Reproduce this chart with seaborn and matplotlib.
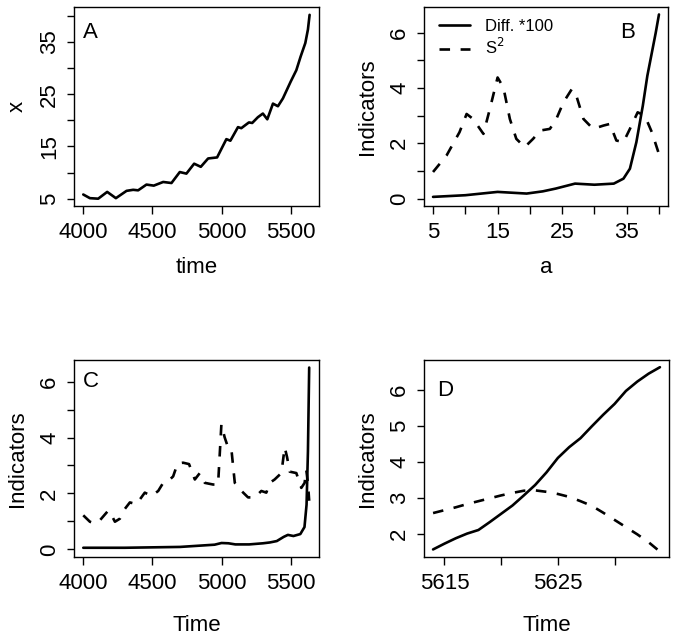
import numpy as np
import pandas as pd
import seaborn as sns
import matplotlib.pyplot as plt
from matplotlib.lines import Line2D

# Panel A: x against time
time_a = [4000, 4048, 4108, 4173, 4236, 4313, 4361, 4397, 4457, 4510, 4578, 4638,
          4698, 4746, 4802, 4850, 4903, 4968, 5035, 5064, 5119, 5143, 5198, 5222,
          5263, 5299, 5331, 5372, 5408, 5444, 5500, 5541, 5572, 5606, 5625, 5637]
x_a = [5.8, 5.1, 5.0, 6.3, 5.1, 6.5, 6.7, 6.6, 7.7, 7.5, 8.2, 8.0,
       10.1, 9.8, 11.7, 11.1, 12.7, 12.9, 16.4, 16.1, 18.7, 18.5, 19.6, 19.5,
       20.6, 21.3, 20.2, 23.2, 22.7, 24.2, 27.4, 29.6, 32.2, 34.8, 37.4, 40.2]

# Panel B: indicators against a
a_s2 = [5, 7.1, 9.1, 10.2, 11.2, 12.8, 13.8, 15.0, 15.9, 16.9, 17.9, 19.2, 20.5,
        21.6, 23.1, 24.1, 25.2, 26.5, 27.2, 28.3, 29.8, 31.4, 32.4, 33.4, 34.5,
        35.5, 36.7, 37.8, 38.9, 39.9]
s2_b = [0.96, 1.56, 2.4, 3.06, 2.88, 2.34, 3.24, 4.38, 4.02, 2.88, 2.16, 1.86, 2.16,
        2.46, 2.52, 2.88, 3.48, 3.96, 3.72, 2.88, 2.52, 2.64, 2.7, 2.1, 2.04,
        2.52, 3.12, 3.0, 2.4, 1.68]
a_diff = [5, 10, 15, 19.5, 22, 24, 27, 30, 33, 34.5, 35.5, 36.5, 37.5, 38.2, 39, 39.5, 40]
diff_b = [0.06, 0.12, 0.24, 0.18, 0.26, 0.36, 0.54, 0.5, 0.54, 0.72, 1.08, 2.04,
          3.36, 4.44, 5.4, 6.0, 6.66]

# Panel C: indicators against Time
time_s2 = [4000, 4048, 4084, 4120, 4181, 4205, 4229, 4265, 4301, 4337, 4385, 4445,
           4494, 4542, 4578, 4614, 4650, 4682, 4722, 4765, 4807, 4843, 4879, 4939,
           4975, 4999, 5023, 5047, 5071, 5096, 5132, 5192, 5240, 5288, 5324, 5349,
           5384, 5433, 5457, 5474, 5493, 5541, 5577, 5601, 5613, 5625, 5634]
s2_c = [1.22, 0.99, 0.93, 1.04, 1.39, 1.22, 0.99, 1.1, 1.45, 1.68, 1.62, 2.03,
        1.91, 2.09, 2.38, 2.44, 2.61, 3.07, 3.1, 3.05, 2.5, 2.73, 2.38, 2.32,
        2.32, 4.47, 4.0, 3.65, 3.6, 2.38, 2.15, 1.86, 1.86, 2.09, 2.03, 2.38,
        2.5, 2.73, 3.65, 3.3, 2.78, 2.73, 2.2, 2.38, 2.84, 2.38, 1.74]
time_diff = [4000, 4300, 4700, 4950, 5000, 5050, 5100, 5200, 5300, 5350, 5400, 5450,
             5480, 5520, 5570, 5600, 5615, 5625, 5634]
diff_c = [0.06, 0.06, 0.09, 0.17, 0.23, 0.22, 0.18, 0.18, 0.22, 0.25, 0.3, 0.45,
          0.52, 0.48, 0.55, 0.8, 1.6, 3.5, 6.5]

# Panel D: last steps before the transition
time_d = list(range(5614, 5635))
diff_d = [1.56, 1.72, 1.87, 2.0, 2.10, 2.32, 2.55, 2.78, 3.06, 3.35, 3.7, 4.10,
          4.40, 4.65, 4.98, 5.30, 5.60, 5.96, 6.22, 6.44, 6.62]
s2_d = [2.57, 2.65, 2.73, 2.82, 2.90, 2.98, 3.06, 3.13, 3.19, 3.20, 3.16, 3.10,
        3.02, 2.90, 2.77, 2.58, 2.38, 2.18, 1.98, 1.76, 1.50]

sns.set_style("ticks")
plt.rcParams['font.family'] = ['Liberation Sans', 'DejaVu Sans']
plt.rcParams['font.size'] = 16
plt.rcParams['text.color'] = 'black'
plt.rcParams['axes.labelcolor'] = 'black'
plt.rcParams['xtick.color'] = 'black'
plt.rcParams['ytick.color'] = 'black'
plt.rcParams['xtick.labelcolor'] = 'black'
plt.rcParams['ytick.labelcolor'] = 'black'
plt.rcParams['xtick.major.size'] = 5.5
plt.rcParams['ytick.major.size'] = 5
plt.rcParams['xtick.major.pad'] = 6
plt.rcParams['ytick.major.pad'] = 5

W, H = 675, 638
fig = plt.figure(figsize=(6.75, 6.38), dpi=100)


def make_ax(l, t, r, b):
    return fig.add_axes([l / W, 1 - b / H, (r - l) / W, (b - t) / H])


axA = make_ax(74, 7, 319, 206)
axB = make_ax(424, 7, 668, 206)
axC = make_ax(74, 360, 319, 557)
axD = make_ax(424, 360, 669, 557)

LW = 1.9
DASH = (0, (4, 4))

sns.lineplot(x=time_a, y=x_a, ax=axA, color='black', lw=LW)
sns.lineplot(x=a_diff, y=diff_b, ax=axB, color='black', lw=LW)
sns.lineplot(x=a_s2, y=s2_b, ax=axB, color='black', lw=LW, linestyle=DASH)
sns.lineplot(x=time_diff, y=diff_c, ax=axC, color='black', lw=LW)
sns.lineplot(x=time_s2, y=s2_c, ax=axC, color='black', lw=LW, linestyle=DASH)
sns.lineplot(x=time_d, y=diff_d, ax=axD, color='black', lw=LW)
sns.lineplot(x=time_d, y=s2_d, ax=axD, color='black', lw=LW, linestyle=DASH)


def ticks(ax, which, vals, shown):
    labs = [str(v) if v in shown else '' for v in vals]
    if which == 'x':
        ax.set_xticks(vals)
        ax.set_xticklabels(labs)
    else:
        ax.set_yticks(vals)
        ax.set_yticklabels(labs, rotation=90, va='center')


ticks(axA, 'x', [4000, 4500, 5000, 5500], [4000, 4500, 5000, 5500])
ticks(axA, 'y', [5, 10, 15, 20, 25, 30, 35, 40], [5, 15, 25, 35])
ticks(axB, 'x', [5, 10, 15, 20, 25, 30, 35, 40], [5, 15, 25, 35])
ticks(axB, 'y', [0, 1, 2, 3, 4, 5, 6], [0, 2, 4, 6])
ticks(axC, 'x', [4000, 4500, 5000, 5500], [4000, 4500, 5000, 5500])
ticks(axC, 'y', [0, 1, 2, 3, 4, 5, 6], [0, 2, 4, 6])
ticks(axD, 'x', [5615, 5620, 5625, 5630], [5615, 5625])
ticks(axD, 'y', [2, 3, 4, 5, 6], [2, 3, 4, 5, 6])

axA.set_xlim(3933, 5705)
axA.set_ylim(3.6, 41.7)
axB.set_xlim(3.6, 41.4)
axB.set_ylim(-0.27, 6.93)
axC.set_xlim(3933, 5705)
axC.set_ylim(-0.27, 6.77)
axD.set_xlim(5613.2, 5634.8)
axD.set_ylim(1.35, 6.82)

axA.set_xlabel('time', labelpad=10)
axA.set_ylabel('x', labelpad=8)
axB.set_xlabel('a', labelpad=10)
axB.set_ylabel('Indicators', labelpad=8)
axC.set_xlabel('Time', labelpad=15)
axC.set_ylabel('Indicators', labelpad=8)
axD.set_xlabel('Time', labelpad=15)
axD.set_ylabel('Indicators', labelpad=8)

for ax in (axA, axB, axC, axD):
    for sp in ax.spines.values():
        sp.set_visible(True)
        sp.set_linewidth(1.0)
        sp.set_color('black')
    ax.tick_params(colors='black', width=1.0)

axA.text(0.067, 0.87, 'A', transform=axA.transAxes, fontsize=16, ha='center', va='center')
axB.text(0.834, 0.87, 'B', transform=axB.transAxes, fontsize=16, ha='center', va='center')
axC.text(0.067, 0.893, 'C', transform=axC.transAxes, fontsize=16, ha='center', va='center')
axD.text(0.086, 0.843, 'D', transform=axD.transAxes, fontsize=16, ha='center', va='center')

handles = [Line2D([], [], color='black', lw=LW),
           Line2D([], [], color='black', lw=LW, linestyle=DASH)]
axB.legend(handles, ['Diff. *100', 'S$^2$'], loc='upper left',
           bbox_to_anchor=(0.061, 0.94), frameon=False, fontsize=12,
           handlelength=1.86, handletextpad=0.9, borderaxespad=0, borderpad=0,
           labelspacing=0.2)

fig.savefig('out.png', dpi=100)
